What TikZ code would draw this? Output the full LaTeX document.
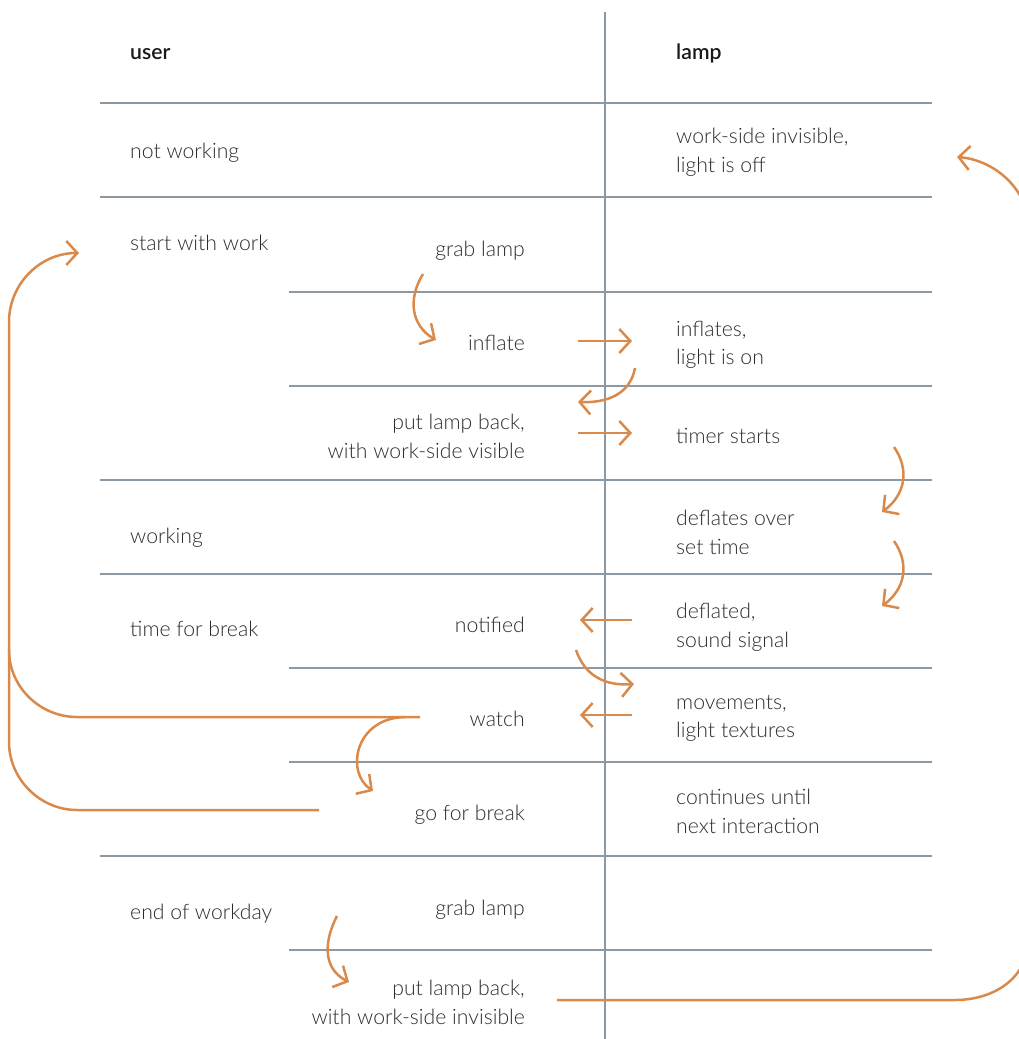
\documentclass[tikz,border=0pt]{standalone}
\usepackage{fontspec}
\IfFontExistsTF{Lato Light}{\setmainfont{Lato Light}}{\setmainfont{Lato}}
\IfFontExistsTF{Lato Semibold}{\newfontfamily\headfont{Lato Semibold}}{\newfontfamily\headfont{Lato}}
\usetikzlibrary{arrows.meta}
\definecolor{txt}{HTML}{2C2C2C}
\definecolor{headtxt}{HTML}{1A1A1A}
\definecolor{rulec}{HTML}{8C99A3}
\definecolor{arrc}{HTML}{D98A4B}
\begin{document}
\begin{tikzpicture}[x=1pt,y=-1pt,
  lbl/.style={inner sep=0pt, text=txt, font=\fontsize{21.2}{28.5}\selectfont, execute at begin node=\strut},
  lw/.style={lbl, anchor=north west, align=left},
  le/.style={lbl, anchor=north east, align=right},
  hd/.style={inner sep=0pt, text=headtxt, anchor=north west, font=\headfont\fontsize{21.2}{28.5}\selectfont, execute at begin node=\strut},
  fullrule/.style={draw=rulec, line width=1.1pt},
  flow/.style={draw=arrc, line width=2.5pt, -{Straight Barb[length=11pt,width=24pt]}},
  flowline/.style={draw=arrc, line width=2.5pt}
]
\useasboundingbox (0,0) rectangle (1019,1039);

% grid
\draw[fullrule] (605,12) -- (605,1039);
\foreach \yy in {103,197,480,574,856} \draw[fullrule] (100,\yy) -- (932,\yy);
\foreach \yy in {292,386,668,762,950} \draw[fullrule] (289,\yy) -- (932,\yy);

% headers
\node[hd] (huser) at (130,39) {user};
\node[hd] (hlamp) at (676,39) {lamp};

% user states (left column)
\node[lw] (notworking) at (130,138) {not working};
\node[lw] (startwork) at (130,230) {start with work};
\node[lw] (working) at (130,523) {working};
\node[lw] (timebreak) at (130,616) {time for break};
\node[lw] (endday) at (130,899) {end of workday};

% user actions (middle column)
\node[le] (grab1) at (525,236) {grab lamp};
\node[le] (inflate) at (525,330) {inflate};
\node[le] (putback1) at (525,414) {put lamp back,\\with work-side visible};
\node[le] (notified) at (525,612) {notified};
\node[le] (watch) at (525,706) {watch};
\node[le] (gobreak) at (525,800) {go for break};
\node[le] (grab2) at (525,895) {grab lamp};
\node[le] (putback2) at (525,980) {put lamp back,\\with work-side invisible};

% lamp states (right column)
\node[lw] (off) at (676,128) {work-side invisible,\\light is off};
\node[lw] (inflates) at (676,321) {inflates,\\light is on};
\node[lw] (timer) at (676,423) {timer starts};
\node[lw] (deflates) at (676,510) {deflates over\\set time};
\node[lw] (deflated) at (676,603) {deflated,\\sound signal};
\node[lw] (movements) at (676,695) {movements,\\light textures};
\node[lw] (continues) at (676,789) {continues until\\next interaction};

% connector end points
\coordinate (inflateA) at (578,341);
\coordinate (inflatesA) at (632,341);
\coordinate (putbackA) at (578,433);
\coordinate (timerA) at (632,433);
\coordinate (deflatedA) at (632,620);
\coordinate (notifiedA) at (580,620);
\coordinate (movementsA) at (632,715);
\coordinate (watchA) at (580,715);
\coordinate (grab1B) at (423,274);
\coordinate (inflateB) at (436,340);
\coordinate (inflatesB) at (635,368);
\coordinate (putbackB) at (578,402);
\coordinate (timerB) at (894,447);
\coordinate (deflatesB) at (882,512);
\coordinate (deflatesC) at (894,541);
\coordinate (deflatedB) at (882,606);
\coordinate (notifiedB) at (576,650);
\coordinate (movementsB) at (634,684);
\coordinate (watchB) at (420,717);
\coordinate (watchC) at (405,717);
\coordinate (gobreakB) at (373,791);
\coordinate (gobreakC) at (319,810);
\coordinate (startB) at (79,253);
\coordinate (grab2B) at (337,916);
\coordinate (putback2B) at (349,982);
\coordinate (putback2C) at (557,1000);
\coordinate (offB) at (957,157);

% straight arrows
\draw[flow] (inflateA) -- (inflatesA);
\draw[flow] (putbackA) -- (timerA);
\draw[flow] (deflatedA) -- (notifiedA);
\draw[flow] (movementsA) -- (watchA);

% curved arrows
\draw[flow] (grab1B) .. controls (407,300) and (412,326) .. (inflateB);
\draw[flow] (inflatesB) .. controls (630,395) and (606,403) .. (putbackB);
\draw[flow] (timerB) .. controls (910,470) and (905,495) .. (deflatesB);
\draw[flow] (deflatesC) .. controls (910,564) and (905,589) .. (deflatedB);
\draw[flow] (notifiedB) .. controls (585,676) and (605,686) .. (movementsB);
\draw[flow] (watchC) .. controls (355,718) and (345,772) .. (gobreakB);
\draw[flow] (grab2B) .. controls (322,945) and (325,970) .. (putback2B);

% loops back
\draw[flow] (watchB) -- (77,717) .. controls (40,717) and (9,687) .. (9,650)
  -- (9,322) .. controls (9,284) and (40,253) .. (startB);
\draw[flowline] (gobreakC) -- (77,810) .. controls (40,810) and (9,779) .. (9,742) -- (9,650);
\draw[flow] (putback2C) -- (955,1000) .. controls (994,1000) and (1028,978) .. (1028,940)
  -- (1028,225) .. controls (1028,190) and (995,160) .. (offB);
\end{tikzpicture}
\end{document}
